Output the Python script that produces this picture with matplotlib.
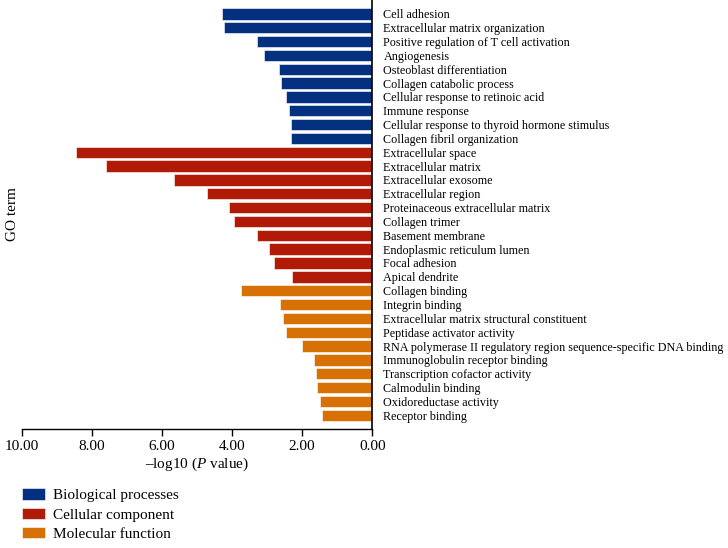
import matplotlib
matplotlib.use('Agg')
import matplotlib.pyplot as plt
from matplotlib.patches import Patch

plt.rcParams['font.family'] = ['Liberation Serif', 'DejaVu Serif']
plt.rcParams['mathtext.fontset'] = 'custom'
plt.rcParams['mathtext.it'] = 'Liberation Serif:italic'
plt.rcParams['mathtext.rm'] = 'Liberation Serif'

# GO terms, top to bottom
bp_terms = ['Cell adhesion', 'Extracellular matrix organization',
            'Positive regulation of T cell activation', 'Angiogenesis',
            'Osteoblast differentiation', 'Collagen catabolic process',
            'Cellular response to retinoic acid', 'Immune response',
            'Cellular response to thyroid hormone stimulus',
            'Collagen fibril organization']
bp_values = [4.28, 4.23, 3.30, 3.10, 2.65, 2.60, 2.47, 2.38, 2.31, 2.31]

cc_terms = ['Extracellular space', 'Extracellular matrix', 'Extracellular exosome',
            'Extracellular region', 'Proteinaceous extracellular matrix',
            'Collagen trimer', 'Basement membrane', 'Endoplasmic reticulum lumen',
            'Focal adhesion', 'Apical dendrite']
cc_values = [8.46, 7.60, 5.65, 4.71, 4.09, 3.94, 3.29, 2.95, 2.80, 2.29]

mf_terms = ['Collagen binding', 'Integrin binding',
            'Extracellular matrix structural constituent',
            'Peptidase activator activity',
            'RNA polymerase II regulatory region sequence-specific DNA binding',
            'Immunoglobulin receptor binding', 'Transcription cofactor activity',
            'Calmodulin binding', 'Oxidoreductase activity', 'Receptor binding']
mf_values = [3.74, 2.62, 2.54, 2.47, 2.00, 1.65, 1.61, 1.58, 1.49, 1.43]

categories = ['Biological processes', 'Cellular component', 'Molecular function']
colors = ['#03307f', '#b01a07', '#d87105']

fig = plt.figure(figsize=(7.28, 5.48), dpi=100)
ax = fig.add_axes([0.0298, 0.217, 0.4816, 0.783])

terms = bp_terms + cc_terms + mf_terms
values = bp_values + cc_values + mf_values
bar_colors = ([colors[0]] * len(bp_terms) + [colors[1]] * len(cc_terms)
              + [colors[2]] * len(mf_terms))
pos = list(range(len(terms)))

ax.barh(pos, values, height=0.82, color=bar_colors, edgecolor='white', linewidth=0.4)

ax.set_xlim(10, 0)
ax.set_ylim(len(terms), -1)
ax.set_xticks([10, 8, 6, 4, 2, 0])
ax.set_xticklabels(['%.2f' % v for v in [10, 8, 6, 4, 2, 0]], fontsize=11)

ax.yaxis.tick_right()
ax.set_yticks(pos)
ax.set_yticklabels(terms, fontsize=8.7)
ax.tick_params(axis='y', length=0, pad=8)
ax.tick_params(axis='x', direction='out', length=5, width=1, pad=3)

for s in ['top', 'left']:
    ax.spines[s].set_visible(False)
ax.spines['right'].set_linewidth(1.2)
ax.spines['bottom'].set_linewidth(1.0)

ax.set_xlabel(r'–log10 ($P$ value)', fontsize=11, labelpad=2)
ax.yaxis.set_label_position('left')
ax.set_ylabel('GO term', fontsize=11, labelpad=2)

handles = [Patch(facecolor=c, edgecolor='white', linewidth=0.4) for c in colors]
fig.legend(handles, categories, loc='lower left', bbox_to_anchor=(0.012, -0.012),
           frameon=False, fontsize=11, handlelength=1.5, handleheight=0.75,
           handletextpad=0.5, labelspacing=0.35)

fig.savefig('out.png', dpi=100)
